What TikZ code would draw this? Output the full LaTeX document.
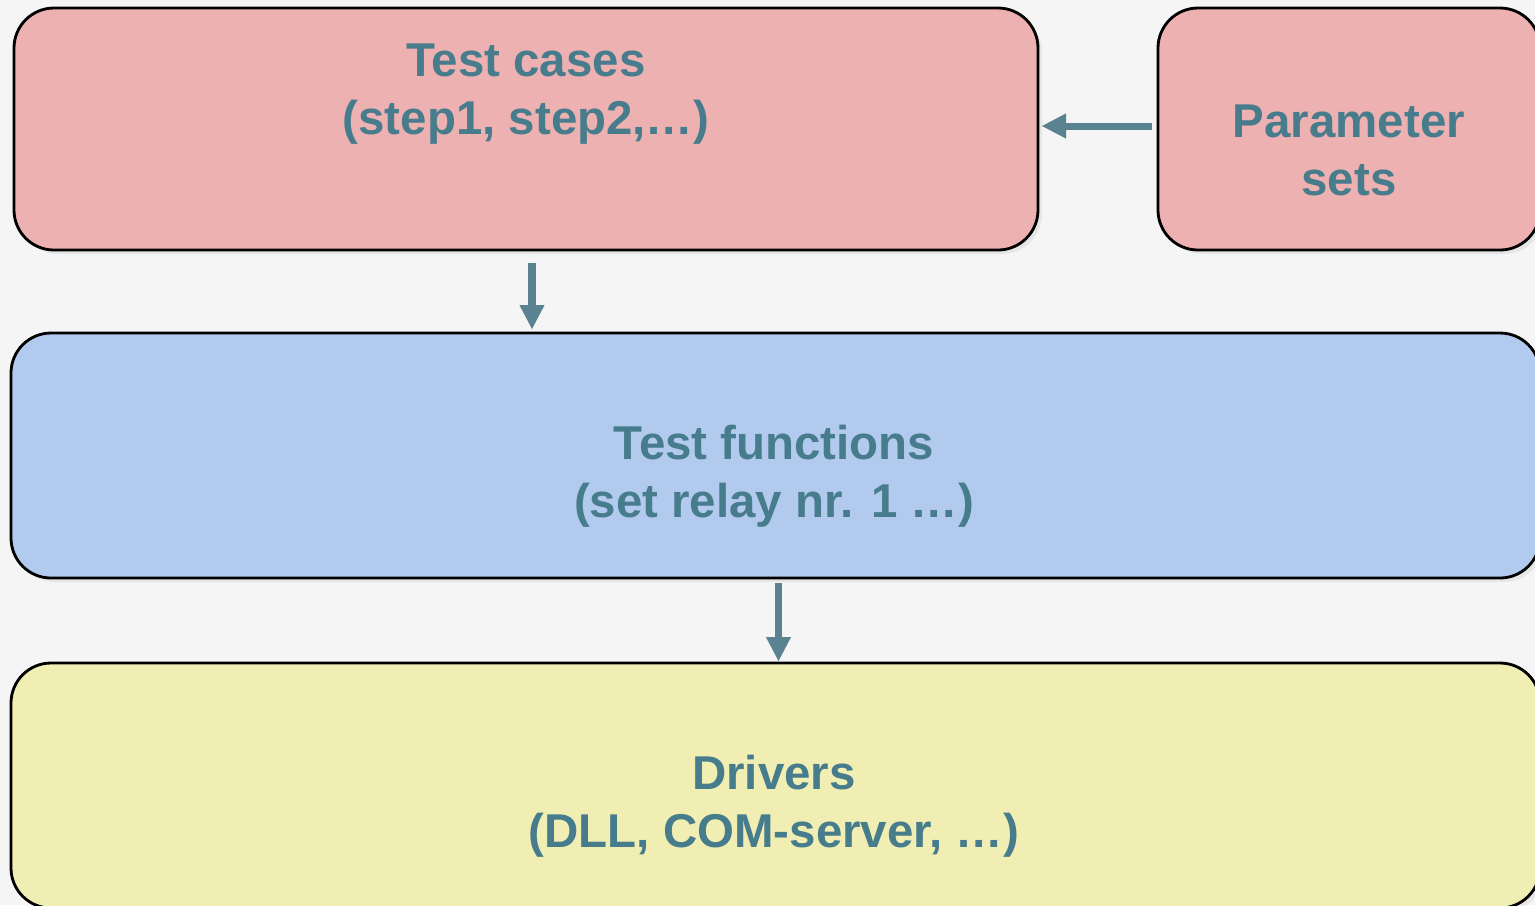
\documentclass[tikz,border=0pt]{standalone}
\usepackage{fontspec}
\setmainfont{Liberation Sans}
\usepackage{tikz}
\usetikzlibrary{positioning,arrows.meta,calc,shadows}
\definecolor{casepink}{HTML}{EEB1B1}
\definecolor{funcblue}{HTML}{B3CAEF}
\definecolor{drvyellow}{HTML}{F0EEB3}
\definecolor{labelteal}{HTML}{467C8C}
\definecolor{flowgray}{HTML}{5B8290}
\definecolor{backgray}{HTML}{F5F5F5}
\tikzset{
    layer/.style = {
        draw,
        shape=rectangle,
        rounded corners=0.4cm,
        line width=0.8pt,
        drop shadow={opacity=0.12, shadow xshift=0.04cm, shadow yshift=-0.04cm}
    },
    caption/.style = {
        align=center,
        text=labelteal,
        font=\fontsize{13.5}{16.5}\selectfont\bfseries
    },
    flow/.style = {
        draw,
        ->,
        color=flowgray,
        line width=2pt
    },
    >={Triangle[width=6.6pt,length=7pt]},
}
\begin{document}
\begin{tikzpicture}
                \clip (0,0) rectangle (15.35,-9.05);
                \fill[backgray] (0,0) rectangle (15.35,-9.05);

                \node[layer, fill=casepink, minimum width=10.24cm, minimum height=2.42cm] (cases) at (5.26,-1.29) {};
                \node[layer, fill=casepink, minimum width=3.82cm, minimum height=2.42cm] (params) at (13.49,-1.29) {};
                \node[layer, fill=funcblue, minimum width=15.29cm, minimum height=2.45cm] (funcs) at (7.755,-4.555) {};
                \node[layer, fill=drvyellow, minimum width=15.29cm, minimum height=2.45cm] (drivers) at (7.755,-7.855) {};

                \node[caption] (casestext) at (5.26,-0.94) {Test cases\\(step1, step2,…)};
                \node[caption] (paramstext) at (13.49,-1.50) {Parameter\\sets};
                \node[caption] (funcstext) at (7.74,-4.76) {Test functions\\(set relay nr. 1 …)};
                \node[caption] (driverstext) at (7.74,-8.06) {Drivers\\(DLL, COM-server, …)};

                \path[flow, shorten <=0.05cm, shorten >=0.02cm] (params.west |- 0,-1.26) -- (cases.east |- 0,-1.26);
                \path[flow, shorten <=0.12cm, shorten >=0.02cm] ([xshift=0.06cm]cases.south) -- ([xshift=0.06cm]cases.south |- funcs.north);
                \path[flow, shorten <=0.04cm, shorten >=0.0cm] ([xshift=0.03cm]funcs.south) -- ([xshift=0.03cm]funcs.south |- drivers.north);
            \end{tikzpicture}
\end{document}
